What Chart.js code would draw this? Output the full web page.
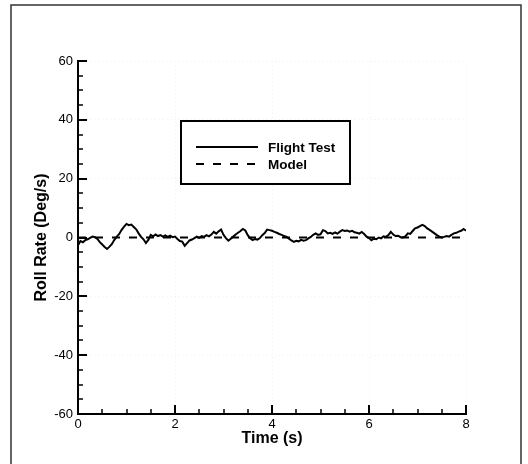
<!DOCTYPE html>
<html>
<head>
<meta charset="utf-8">
<script src="https://cdn.jsdelivr.net/npm/chart.js@4/dist/chart.umd.min.js"></script>
<style>
  html, body { margin: 0; padding: 0; background: #fff; }
  #wrap { position: relative; width: 528px; height: 464px; }
</style>
</head>
<body>
<div id="wrap"><canvas id="rollChart"></canvas></div>
<script>
// roll rate samples, every 0.05 s from 0 to 8 s
const sampleStep = 0.05;
const flightTest = [
  -2.6, -1.2, -1.6, -0.9, -0.6, -0.1, 0.3, 0.1, -0.5, -1.6,
  -2.4, -3.2, -3.9, -3.1, -2.2, -0.8, 0.3, 1.2, 2.6, 3.7,
  4.6, 4.2, 4.4, 3.6, 2.8, 1.4, 0.2, -0.6, -1.9, -0.8,
  0.9, 0.4, 1.0, 0.5, 0.8, 0.3, 0.7, 0.2, 0.6, 0.1,
  0.3, -0.5, -1.2, -1.4, -2.8, -1.9, -1.0, -0.7, -0.2, 0.3,
  -0.1, 0.5, 0.2, 0.8, 0.4, 1.0, 1.9, 1.3, 2.1, 2.7,
  0.9, -0.2, -1.1, -0.4, 0.3, 1.0, 1.6, 2.2, 2.9, 2.4,
  0.8, -0.3, -0.9, -0.5, -0.7, -0.2, 0.8, 1.5, 2.7, 2.5,
  2.3, 1.9, 1.6, 1.2, 0.9, 0.5, 0.2, -0.4, -1.0, -1.5,
  -1.1, -1.3, -0.8, -1.1, -0.9, -0.3, 0.2, 0.9, 1.4, 0.9,
  1.1, 2.5, 2.2, 1.4, 1.6, 1.2, 1.7, 1.3, 2.0, 2.5,
  2.2, 2.4, 2.0, 2.3, 1.8, 1.6, 1.3, 1.9, 1.2, 0.3,
  -0.2, -0.9, -0.4, -0.6, 0.0, -0.3, 0.4, 0.2, 0.8, 1.9,
  1.0, 0.5, 0.6, 0.1, 0.0, 0.4, 1.4, 1.2, 2.2, 3.1,
  3.4, 3.9, 4.3, 3.9, 3.1, 2.6, 2.0, 1.4, 0.8, 0.3,
  0.0, 0.2, 0.5, 0.3, 0.9, 1.4, 1.6, 2.0, 2.3, 2.9,
  2.3
];
const modelTimes = [0, 8];
const modelValues = [0, 0];

const xTicks = [0, 2, 4, 6, 8];
const yTicks = [-60, -40, -20, 0, 20, 40, 60];
const xMinorStep = 0.5;
const yMinorStep = 5;

const flightPoints = flightTest.map((v, i) => ({ x: +(i * sampleStep).toFixed(2), y: v }));
const modelPoints = modelTimes.map((t, i) => ({ x: t, y: modelValues[i] }));

const FONT = "'Liberation Sans', Arial, Helvetica, sans-serif";

// outer frame around the figure
const framePlugin = {
  id: "frame",
  beforeDraw(chart) {
    const ctx = chart.ctx;
    ctx.save();
    ctx.fillStyle = "#fff";
    ctx.fillRect(0, 0, chart.width, chart.height);
    ctx.strokeStyle = "#333";
    ctx.lineWidth = 1.5;
    ctx.strokeRect(11, 5, 510, 480);
    ctx.restore();
  }
};

// tecplot style inward tick marks, major and minor
const ticksPlugin = {
  id: "inTicks",
  afterDraw(chart) {
    const ctx = chart.ctx;
    const xs = chart.scales.x, ys = chart.scales.y;
    const left = xs.left, bottom = ys.bottom;
    ctx.save();
    ctx.strokeStyle = "#000";
    ctx.lineCap = "butt";
    for (let v = xs.min; v <= xs.max + 1e-9; v += xMinorStep) {
      const major = xTicks.includes(+v.toFixed(2));
      const px = Math.round(xs.getPixelForValue(v));
      ctx.lineWidth = major ? 2 : 1.5;
      ctx.beginPath();
      ctx.moveTo(px, bottom);
      ctx.lineTo(px, bottom - (major ? 9 : 5));
      ctx.stroke();
    }
    for (let v = ys.min; v <= ys.max + 1e-9; v += yMinorStep) {
      const major = yTicks.includes(v);
      const py = Math.round(ys.getPixelForValue(v));
      ctx.lineWidth = major ? 2 : 1.5;
      ctx.beginPath();
      ctx.moveTo(left, py);
      ctx.lineTo(left + (major ? 9 : 5), py);
      ctx.stroke();
    }
    ctx.restore();
  }
};

// boxed legend inside the plot
const legendBoxPlugin = {
  id: "legendBox",
  afterDraw(chart) {
    const ctx = chart.ctx;
    const a = chart.chartArea;
    const bx = a.left + 103, by = a.top + 60, bw = 169, bh = 63;
    ctx.save();
    ctx.fillStyle = "#fff";
    ctx.fillRect(bx, by, bw, bh);
    ctx.strokeStyle = "#000";
    ctx.lineWidth = 2;
    ctx.strokeRect(bx, by, bw, bh);
    const rows = [by + 26, by + 43];
    chart.data.datasets.forEach((ds, i) => {
      ctx.lineWidth = 2;
      ctx.setLineDash(ds.borderDash || []);
      ctx.beginPath();
      ctx.moveTo(bx + 15, rows[i]);
      ctx.lineTo(bx + 77, rows[i]);
      ctx.stroke();
      ctx.setLineDash([]);
      ctx.fillStyle = "#000";
      ctx.font = "bold 13.5px " + FONT;
      ctx.textBaseline = "middle";
      ctx.fillText(ds.label, bx + 87, rows[i] + 1);
    });
    ctx.restore();
  }
};

new Chart(document.getElementById("rollChart").getContext("2d"), {
  type: "line",
  data: {
    datasets: [
      {
        label: "Flight Test",
        data: flightPoints,
        borderColor: "#000",
        borderWidth: 2,
        pointRadius: 0,
        tension: 0
      },
      {
        label: "Model",
        data: modelPoints,
        borderColor: "#000",
        borderWidth: 2,
        borderDash: [8, 9],
        pointRadius: 0,
        tension: 0
      }
    ]
  },
  options: {
    responsive: true,
    maintainAspectRatio: false,
    animation: false,
    layout: { padding: { left: 0, right: 62, top: 61, bottom: 0 } },
    plugins: {
      legend: { display: false },
      tooltip: { enabled: false }
    },
    scales: {
      x: {
        type: "linear",
        min: 0,
        max: 8,
        afterFit(s) { s.height = 50; },
        afterBuildTicks(s) { s.ticks = xTicks.map(v => ({ value: v })); },
        ticks: { padding: 3, color: "#000", font: { family: FONT, size: 13 } },
        grid: { color: "#f0f0f0", lineWidth: 1, drawTicks: false },
        border: { display: true, color: "#000", width: 2, dash: [1, 3] },
        title: {
          display: true,
          text: "Time (s)",
          color: "#000",
          font: { family: FONT, size: 16, weight: "bold" },
          padding: { top: 0, bottom: 16 }
        }
      },
      y: {
        type: "linear",
        min: -60,
        max: 60,
        afterFit(s) { s.width = 78; },
        afterBuildTicks(s) { s.ticks = yTicks.map(v => ({ value: v })); },
        ticks: { padding: 5, color: "#000", font: { family: FONT, size: 13 } },
        grid: { color: "#f0f0f0", lineWidth: 1, drawTicks: false },
        border: { display: true, color: "#000", width: 2, dash: [1, 3] },
        title: {
          display: true,
          text: "Roll Rate (Deg/s)",
          color: "#000",
          font: { family: FONT, size: 16, weight: "bold" },
          padding: { top: 32, bottom: 0 }
        }
      }
    }
  },
  plugins: [framePlugin, ticksPlugin, legendBoxPlugin]
});
</script>
</body>
</html>
